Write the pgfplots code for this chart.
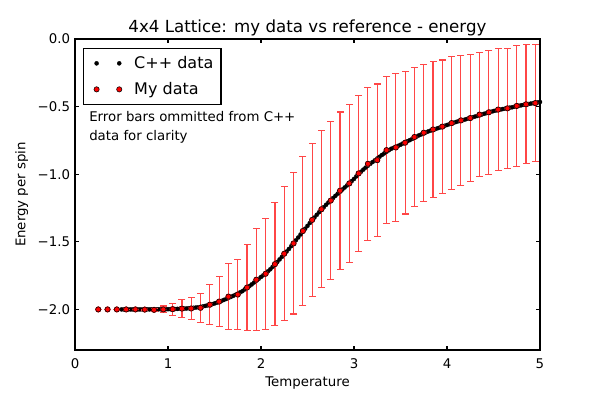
\documentclass[border=0pt]{standalone}
\usepackage{pgfplots}
\pgfplotsset{compat=1.18}
\usepackage{pgfplotstable}
\usepackage{fontspec}
\setmainfont{DejaVu Sans}
\definecolor{errred}{RGB}{255,70,70}
\newcommand{\ticksize}{\fontsize{9.6}{11.5}\selectfont}
\newcommand{\bigsize}{\fontsize{11.52}{13.8}\selectfont}
\newcommand{\titlesize}{\fontsize{12}{14.4}\selectfont}
\pgfplotsset{twomarks/.style={legend image code/.code={\path (-5.5pt,0pt) (24.7pt,0pt);\draw[##1] plot[only marks] coordinates {(0pt,0pt) (16.3pt,0pt)};}}}

\pgfplotstableread{
T E
0.500 -2.000
0.525 -2.000
0.550 -2.000
0.575 -2.000
0.600 -2.000
0.625 -2.000
0.650 -2.000
0.675 -2.000
0.700 -2.000
0.725 -2.000
0.750 -2.000
0.775 -1.999
0.800 -2.000
0.825 -1.999
0.850 -2.000
0.875 -1.999
0.900 -1.999
0.925 -1.999
0.950 -1.998
0.975 -1.999
1.000 -1.998
1.025 -1.998
1.050 -1.997
1.075 -1.997
1.100 -1.996
1.125 -1.995
1.150 -1.995
1.175 -1.994
1.200 -1.993
1.225 -1.991
1.250 -1.990
1.275 -1.988
1.300 -1.986
1.325 -1.984
1.350 -1.981
1.375 -1.978
1.400 -1.974
1.425 -1.970
1.450 -1.965
1.475 -1.961
1.500 -1.956
1.525 -1.950
1.550 -1.943
1.575 -1.937
1.600 -1.930
1.625 -1.923
1.650 -1.915
1.675 -1.908
1.700 -1.900
1.725 -1.892
1.750 -1.884
1.775 -1.874
1.800 -1.865
1.825 -1.852
1.850 -1.840
1.875 -1.828
1.900 -1.815
1.925 -1.801
1.950 -1.787
1.975 -1.774
2.000 -1.760
2.025 -1.747
2.050 -1.733
2.075 -1.718
2.100 -1.703
2.125 -1.685
2.150 -1.667
2.175 -1.649
2.200 -1.630
2.225 -1.611
2.250 -1.591
2.275 -1.572
2.300 -1.553
2.325 -1.532
2.350 -1.510
2.375 -1.489
2.400 -1.468
2.425 -1.446
2.450 -1.424
2.475 -1.403
2.500 -1.382
2.525 -1.361
2.550 -1.340
2.575 -1.320
2.600 -1.300
2.625 -1.281
2.650 -1.263
2.675 -1.244
2.700 -1.226
2.725 -1.209
2.750 -1.193
2.775 -1.176
2.800 -1.160
2.825 -1.144
2.850 -1.129
2.875 -1.113
2.900 -1.098
2.925 -1.083
2.950 -1.067
2.975 -1.051
3.000 -1.035
3.025 -1.016
3.050 -0.998
3.075 -0.982
3.100 -0.966
3.125 -0.951
3.150 -0.937
3.175 -0.923
3.200 -0.910
3.225 -0.897
3.250 -0.884
3.275 -0.871
3.300 -0.858
3.325 -0.846
3.350 -0.834
3.375 -0.823
3.400 -0.812
3.425 -0.805
3.450 -0.797
3.475 -0.790
3.500 -0.782
3.525 -0.773
3.550 -0.765
3.575 -0.756
3.600 -0.748
3.625 -0.739
3.650 -0.730
3.675 -0.721
3.700 -0.712
3.725 -0.705
3.750 -0.698
3.775 -0.690
3.800 -0.683
3.825 -0.677
3.850 -0.671
3.875 -0.666
3.900 -0.660
3.925 -0.654
3.950 -0.648
3.975 -0.642
4.000 -0.636
4.025 -0.630
4.050 -0.624
4.075 -0.619
4.100 -0.613
4.125 -0.608
4.150 -0.603
4.175 -0.599
4.200 -0.594
4.225 -0.589
4.250 -0.584
4.275 -0.579
4.300 -0.574
4.325 -0.569
4.350 -0.563
4.375 -0.558
4.400 -0.553
4.425 -0.548
4.450 -0.543
4.475 -0.538
4.500 -0.533
4.525 -0.529
4.550 -0.525
4.575 -0.522
4.600 -0.518
4.625 -0.515
4.650 -0.512
4.675 -0.508
4.700 -0.505
4.725 -0.501
4.750 -0.497
4.775 -0.494
4.800 -0.490
4.825 -0.487
4.850 -0.484
4.875 -0.481
4.900 -0.478
4.925 -0.475
4.950 -0.472
4.975 -0.469
5.000 -0.466
}\cppdata

\pgfplotstableread{
T E err
0.25 -2.000 0.000
0.35 -2.000 0.000
0.45 -2.000 0.000
0.55 -2.000 0.000
0.65 -2.000 0.000
0.75 -2.001 0.003
0.85 -2.003 0.012
0.95 -2.000 0.025
1.05 -1.998 0.045
1.15 -1.994 0.065
1.25 -1.993 0.083
1.35 -1.988 0.106
1.45 -1.965 0.149
1.55 -1.942 0.186
1.65 -1.905 0.242
1.75 -1.890 0.260
1.85 -1.838 0.320
1.95 -1.780 0.378
2.05 -1.736 0.410
2.15 -1.665 0.455
2.25 -1.588 0.497
2.35 -1.512 0.522
2.45 -1.420 0.550
2.55 -1.338 0.565
2.65 -1.259 0.580
2.75 -1.195 0.585
2.85 -1.122 0.582
2.95 -1.068 0.585
3.05 -0.994 0.575
3.15 -0.923 0.567
3.25 -0.896 0.563
3.35 -0.822 0.543
3.45 -0.802 0.545
3.55 -0.767 0.527
3.65 -0.725 0.513
3.75 -0.693 0.507
3.85 -0.669 0.503
3.95 -0.648 0.493
4.05 -0.622 0.493
4.15 -0.602 0.480
4.25 -0.585 0.470
4.35 -0.559 0.460
4.45 -0.542 0.460
4.55 -0.522 0.450
4.65 -0.513 0.443
4.75 -0.495 0.445
4.85 -0.483 0.440
4.95 -0.474 0.435
}\mydata

\begin{document}
\begin{tikzpicture}
\useasboundingbox (-54pt,-36pt) rectangle (378pt,252pt);
\begin{axis}[
  at={(0,0)}, anchor=south west,
  scale only axis, width=334.8pt, height=223.92pt,
  xmin=0, xmax=5, ymin=-2.3, ymax=0,
  xtick={0,1,2,3,4,5},
  ytick={-2,-1.5,-1,-0.5,0},
  yticklabels={−2.0,−1.5,−1.0,−0.5,0.0},
  tick align=inside, major tick length=3.2pt,
  minor tick num=0,
  axis line style={line width=0.8pt},
  tick style={line width=0.8pt, black},
  ticklabel style={font=\ticksize},
  xticklabel style={yshift=-3pt},
  /pgf/number format/assume math mode=true,
  xlabel={Temperature}, ylabel={Energy per spin},
  label style={font=\ticksize},
  xlabel style={yshift=1.5pt},
  title={4x4 Lattice: my data vs reference - energy},
  title style={font=\titlesize, at={(0.5,1)}, anchor=base, yshift=-1.5pt},
  legend style={at={(0.0172,0.971)}, anchor=north west, draw=black,
    line width=0.8pt, font=\bigsize, fill=white, inner sep=3.5pt,
    row sep=4.5pt, cells={anchor=west}},
]
\addplot[only marks, mark=*, mark size=1.5pt, mark options={fill=black, draw=black, line width=0.2pt}, twomarks]
  table[x=T, y=E] {\cppdata};
\addlegendentry{C++ data}
% error bar stems
\addplot[forget plot, only marks, mark=none, color=errred,
  error bars/.cd, y dir=both, y explicit, error mark=none,
  error bar style={draw=errred, line width=0.8pt}]
  table[x=T, y=E, y error=err] {\mydata};
% error bar caps (upper and lower)
\addplot[forget plot, only marks, mark=-, mark size=2.5pt, mark options={draw=errred, line width=0.8pt}]
  table[x=T, y expr=\thisrow{E}+\thisrow{err}] {\mydata};
\addplot[forget plot, only marks, mark=-, mark size=2.5pt, mark options={draw=errred, line width=0.8pt}]
  table[x=T, y expr=\thisrow{E}-\thisrow{err}] {\mydata};
\addplot[only marks, mark=*, mark size=1.9pt, mark options={fill=red, draw=black, line width=0.4pt}, twomarks]
  table[x=T, y=E] {\mydata};
\addlegendentry{My data}
\node[anchor=base west, font=\ticksize, inner sep=0pt] at (axis cs:0.1505,-0.6126) {Error bars ommitted from C++};
\node[anchor=base west, font=\ticksize, inner sep=0pt] at (axis cs:0.1505,-0.7496) {data for clarity};
\end{axis}
\end{tikzpicture}
\end{document}
